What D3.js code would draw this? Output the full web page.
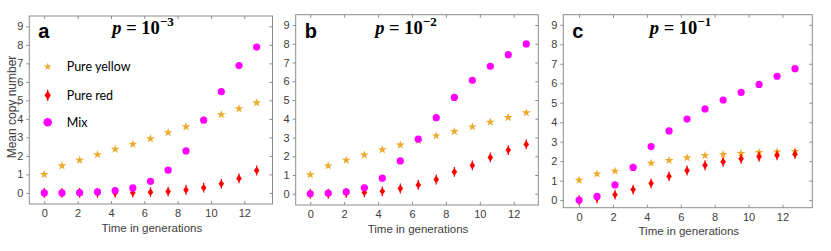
<!DOCTYPE html>
<html>
<head>
  <script src="https://cdn.jsdelivr.net/npm/d3@7"></script>
  <style>
    body { margin: 0; background: #fff; }
    .tick text { font-family: "Liberation Sans", Arial, sans-serif; font-size: 11px; fill: #404040; }
  </style>
</head>
<body>
<script>
// generation times (x positions of the samples)
var times = [0, 1.06, 2.12, 3.19, 4.25, 5.31, 6.37, 7.43, 8.5, 9.56, 10.62, 11.68, 12.74];

// p = 1e-3
var yellowA = [1.0, 1.47, 1.77, 2.07, 2.36, 2.63, 2.93, 3.26, 3.58, 3.93, 4.23, 4.55, 4.87];
var redA    = [0, 0, 0, 0, 0, 0.01, 0.04, 0.07, 0.16, 0.28, 0.49, 0.78, 1.21];
var mixA    = [0, 0, 0.01, 0.05, 0.13, 0.27, 0.63, 1.23, 2.27, 3.93, 5.47, 6.88, 7.88];

// p = 1e-2
var yellowB = [1.02, 1.49, 1.79, 2.07, 2.35, 2.6, 2.84, 3.09, 3.32, 3.57, 3.82, 4.07, 4.32];
var redB    = [0, 0, 0.03, 0.07, 0.13, 0.28, 0.47, 0.76, 1.17, 1.51, 1.94, 2.33, 2.63];
var mixB    = [0, 0.03, 0.1, 0.32, 0.83, 1.75, 2.91, 4.06, 5.14, 6.05, 6.8, 7.42, 7.99];

// p = 1e-1
var yellowC = [1.02, 1.34, 1.49, 1.68, 1.9, 2.04, 2.18, 2.29, 2.35, 2.4, 2.45, 2.48, 2.5];
var redC    = [0, 0.09, 0.28, 0.54, 0.86, 1.22, 1.52, 1.79, 1.97, 2.12, 2.22, 2.3, 2.36];
var mixC    = [0, 0.19, 0.78, 1.68, 2.75, 3.55, 4.16, 4.68, 5.14, 5.53, 5.94, 6.36, 6.75];

var xTicks = [0, 2, 4, 6, 8, 10, 12];
var yTicks = [0, 1, 2, 3, 4, 5, 6, 7, 8, 9];
var labels = ["a", "b", "c"];
var exponents = ["\u22123", "\u22122", "\u22121"];
var seriesNames = ["Pure yellow", "Pure red", "Mix"];

var colYellow = "#EDAA2A", colRed = "#FF0000", colMix = "#FF00FF";

var panels = [
  {left: 29.3, right: 272.5, top: 16, bottom: 204, xd: [-0.9, 13.69], yd: [-0.6, 9.56], yellow: yellowA, red: redA, mix: mixA, pOff: 83, legend: true},
  {left: 295.7, right: 538.3, top: 14.7, bottom: 205, xd: [-0.86, 13.45], yd: [-0.6, 9.55], yellow: yellowB, red: redB, mix: mixB, pOff: 79.5, legend: false},
  {left: 563.3, right: 812.3, top: 14.7, bottom: 207.7, xd: [-0.93, 13.76], yd: [-0.39, 9.52], yellow: yellowC, red: redC, mix: mixC, pOff: 86.5, legend: false}
];

var svg = d3.select("body").append("svg")
  .attr("width", 831)
  .attr("height", 251);

var star = d3.symbol().type(d3.symbolStar);

function diamond(g, cx, cy, hw, hh) {
  g.append("line")
    .attr("x1", cx).attr("x2", cx)
    .attr("y1", cy - hh - 1).attr("y2", cy + hh + 1)
    .attr("stroke", colRed).attr("stroke-width", 1.2);
  g.append("path")
    .attr("d", "M" + cx + "," + (cy - hh) + "L" + (cx + hw) + "," + cy + "L" + cx + "," + (cy + hh) + "L" + (cx - hw) + "," + cy + "Z")
    .attr("fill", colRed);
}

panels.forEach(function(p, k) {
  var x = d3.scaleLinear().domain(p.xd).range([p.left, p.right]);
  var y = d3.scaleLinear().domain(p.yd).range([p.bottom, p.top]);
  var g = svg.append("g");

  // box
  g.append("rect")
    .attr("x", p.left).attr("y", p.top)
    .attr("width", p.right - p.left).attr("height", p.bottom - p.top)
    .attr("fill", "none").attr("stroke", "#8c8c8c").attr("stroke-width", 1);

  var ax = g.append("g")
    .attr("transform", "translate(0," + p.bottom + ")")
    .call(d3.axisBottom(x).tickValues(xTicks).tickSize(-3).tickPadding(5.5));
  ax.select(".domain").remove();
  ax.selectAll("line").attr("stroke", "#8c8c8c");

  var axTop = g.append("g")
    .attr("transform", "translate(0," + p.top + ")")
    .call(d3.axisTop(x).tickValues(xTicks).tickSize(-3).tickFormat(""));
  axTop.select(".domain").remove();
  axTop.selectAll("line").attr("stroke", "#8c8c8c");

  var ay = g.append("g")
    .attr("transform", "translate(" + p.left + ",0)")
    .call(d3.axisLeft(y).tickValues(yTicks).tickSize(3).tickPadding(3));
  ay.select(".domain").remove();
  ay.selectAll("line").attr("stroke", "#8c8c8c");

  var ayr = g.append("g")
    .attr("transform", "translate(" + p.right + ",0)")
    .call(d3.axisRight(y).tickValues(yTicks).tickSize(-3).tickFormat(""));
  ayr.select(".domain").remove();
  ayr.selectAll("line").attr("stroke", "#8c8c8c");

  // x label
  g.append("text")
    .attr("x", (p.left + p.right) / 2 + 1)
    .attr("y", p.bottom + 27.5)
    .attr("text-anchor", "middle")
    .attr("font-family", "Liberation Sans, Arial, sans-serif")
    .attr("font-size", 11.5)
    .attr("fill", "#404040")
    .text("Time in generations");

  // series
  g.selectAll(".ys").data(p.yellow).enter().append("path")
    .attr("transform", function(d, i) { return "translate(" + x(times[i]) + "," + y(d) + ")"; })
    .attr("d", star.size(24)())
    .attr("fill", colYellow);

  p.red.forEach(function(d, i) { diamond(g, x(times[i]), y(d), 2.8, 3.9); });

  g.selectAll(".mx").data(p.mix).enter().append("circle")
    .attr("cx", function(d, i) { return x(times[i]); })
    .attr("cy", function(d) { return y(d); })
    .attr("r", 3.6)
    .attr("fill", colMix);

  // panel letter
  g.append("text")
    .attr("x", p.left + 9)
    .attr("y", 38)
    .attr("font-family", "Liberation Sans, Arial, sans-serif")
    .attr("font-weight", "bold")
    .attr("font-size", 20)
    .attr("fill", "#000")
    .text(labels[k]);

  // p = 10^-n
  var t = g.append("text")
    .attr("x", p.left + p.pOff)
    .attr("y", 33.5)
    .attr("font-family", "Liberation Serif, serif")
    .attr("font-weight", "bold")
    .attr("font-size", 18.5)
    .attr("fill", "#000");
  t.append("tspan").attr("font-style", "italic").text("p");
  t.append("tspan").text(" = 10");
  t.append("tspan").attr("dy", -7.5).attr("font-size", 13).text(exponents[k]);

  if (p.legend) {
    var lx = p.left + 18.4, tx = p.left + 37.4;
    var ly = [66.7, 95.3, 122.3];
    g.append("path")
      .attr("transform", "translate(" + lx + "," + ly[0] + ")")
      .attr("d", star.size(18)())
      .attr("fill", colYellow);
    diamond(g, lx, ly[1], 3.2, 4.6);
    g.append("circle").attr("cx", lx).attr("cy", ly[2]).attr("r", 4.3).attr("fill", colMix);
    seriesNames.forEach(function(s, i) {
      g.append("text")
        .attr("x", tx).attr("y", ly[i] + 4.5)
        .attr("font-family", "Lato, 'Open Sans', sans-serif")
        .attr("font-size", 12.5)
        .attr("fill", "#000")
        .text(s);
    });
  }
});

// y label
svg.append("text")
  .attr("transform", "translate(16,107) rotate(-90)")
  .attr("text-anchor", "middle")
  .attr("font-family", "Liberation Sans, Arial, sans-serif")
  .attr("font-size", 12)
  .attr("fill", "#404040")
  .text("Mean copy number");
</script>
</body>
</html>
